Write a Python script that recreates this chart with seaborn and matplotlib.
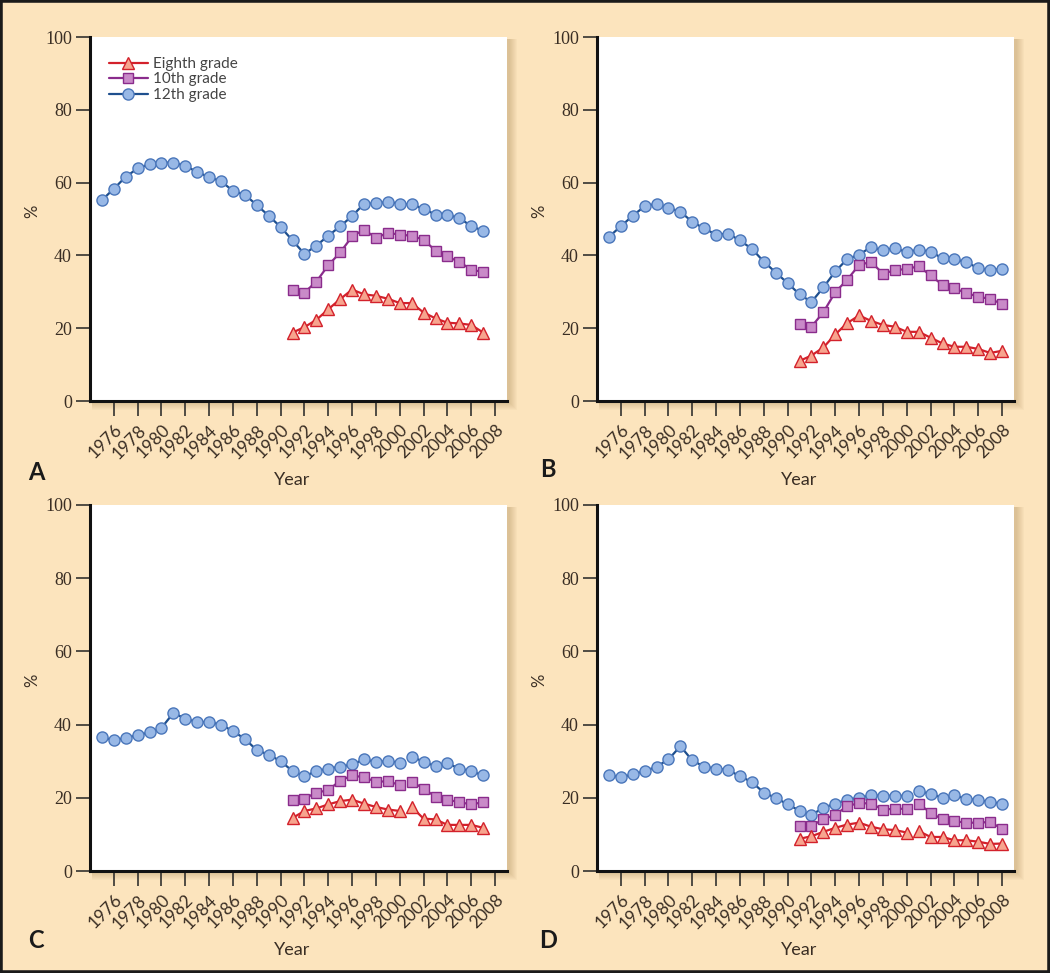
import numpy as np
import pandas as pd
import matplotlib
matplotlib.use('Agg')
import matplotlib.pyplot as plt
import seaborn as sns
from matplotlib.lines import Line2D
from matplotlib.patches import Rectangle

# survey years
years_12_short = list(range(1975, 2008))
years_12_long = list(range(1975, 2009))
years_lo_short = list(range(1991, 2008))
years_lo_long = list(range(1991, 2009))

# panel A
a_12 = [55.2, 58.3, 61.6, 63.9, 65.1, 65.5, 65.5, 64.6, 62.9, 61.5,
        60.4, 57.7, 56.7, 53.8, 50.9, 47.8, 44.1, 40.4, 42.7, 45.4,
        48.0, 50.8, 54.2, 54.3, 54.7, 54.2, 54.0, 52.8, 51.2, 51.1,
        50.3, 48.0, 46.8]
a_10 = [30.5, 29.8, 32.8, 37.3, 40.8, 45.2, 47.1, 44.8, 46.2, 45.7,
        45.4, 44.3, 41.3, 39.7, 38.2, 36.1, 35.4]
a_8 = [18.8, 20.3, 22.3, 25.2, 28.0, 30.6, 29.3, 28.9, 28.1, 26.9,
       26.9, 24.3, 22.7, 21.5, 21.3, 20.9, 18.8]

# panel B
b_12 = [45.1, 48.0, 50.9, 53.5, 54.2, 53.1, 52.0, 49.2, 47.4, 45.7,
        46.0, 44.1, 41.8, 38.3, 35.3, 32.4, 29.3, 27.2, 31.2, 35.6,
        39.0, 40.2, 42.3, 41.4, 42.0, 40.9, 41.6, 41.0, 39.2, 39.0,
        38.1, 36.5, 35.9, 36.4]
b_10 = [21.1, 20.4, 24.4, 29.9, 33.3, 37.4, 38.2, 35.0, 35.9, 36.3,
        37.0, 34.5, 31.9, 31.0, 29.6, 28.7, 28.0, 26.7]
b_8 = [11.0, 12.5, 14.7, 18.3, 21.4, 23.5, 22.0, 20.9, 20.4, 19.0,
       19.0, 17.4, 15.8, 14.9, 14.9, 14.3, 13.2, 13.8]

# panel C
c_12 = [36.6, 35.7, 36.4, 37.1, 37.9, 39.1, 43.2, 41.6, 40.7, 40.7,
        40.0, 38.2, 36.1, 33.0, 31.8, 30.0, 27.3, 25.9, 27.3, 28.0,
        28.5, 29.1, 30.5, 29.8, 30.0, 29.6, 31.2, 29.9, 28.6, 29.4,
        28.0, 27.3, 26.1]
c_10 = [19.5, 19.8, 21.4, 22.1, 24.7, 26.1, 25.6, 24.4, 24.5, 23.5,
        24.4, 22.5, 20.3, 19.5, 18.8, 18.2, 18.8]
c_8 = [14.5, 16.4, 17.1, 18.2, 19.1, 19.5, 18.4, 17.5, 16.8, 16.4,
       17.5, 14.3, 14.1, 12.6, 12.6, 12.6, 11.8]

# panel D
d_12 = [26.2, 25.6, 26.4, 27.3, 28.5, 30.5, 34.1, 30.2, 28.5, 28.0,
        27.6, 25.9, 24.3, 21.4, 20.0, 18.2, 16.5, 15.3, 17.3, 18.4,
        19.5, 20.0, 20.7, 20.5, 20.6, 20.5, 21.8, 21.1, 20.0, 20.7,
        19.7, 19.4, 18.8, 18.4]
d_10 = [12.4, 12.4, 14.1, 15.4, 17.7, 18.6, 18.4, 16.8, 17.0, 17.0,
        18.4, 15.9, 14.1, 13.6, 13.2, 13.2, 13.4, 11.5]
d_8 = [8.8, 9.5, 10.7, 11.8, 12.7, 13.2, 12.1, 11.4, 11.2, 10.5,
       10.9, 9.3, 9.3, 8.4, 8.4, 8.0, 7.4, 7.5]

grades = ['Eighth grade', '10th grade', '12th grade']
x_ticks = list(range(1976, 2010, 2))
y_ticks = [0, 20, 40, 60, 80, 100]

panels = {
    'A': dict(y12=a_12, y10=a_10, y8=a_8, yr12=years_12_short, yrlo=years_lo_short, brk=None),
    'B': dict(y12=b_12, y10=b_10, y8=b_8, yr12=years_12_long, yrlo=years_lo_long, brk=None),
    'C': dict(y12=c_12, y10=c_10, y8=c_8, yr12=years_12_short, yrlo=years_lo_short, brk=2001),
    'D': dict(y12=d_12, y10=d_10, y8=d_8, yr12=years_12_long, yrlo=years_lo_long, brk=2001),
}

styles = {
    'Eighth grade': dict(color='#D3212B', marker='^', markerfacecolor='#F7A48E',
                         markeredgecolor='#D3212B', markersize=8.5),
    '10th grade': dict(color='#8A2C8C', marker='s', markerfacecolor='#C98AC8',
                       markeredgecolor='#8A2C8C', markersize=7),
    '12th grade': dict(color='#1E4F8E', marker='o', markerfacecolor='#98B8E6',
                       markeredgecolor='#4A76BA', markersize=8),
}

BG = '#FCE4BD'
TXT = '#3A2E24'
W, H = 1050, 973

# axes boxes in pixels: left, top, right, bottom
boxes = {'A': (90, 37, 507, 401), 'B': (597, 37, 1014, 401),
         'C': (90, 505, 507, 871), 'D': (597, 505, 1014, 871)}
letters = {'A': (36, 472), 'B': (548, 470), 'C': (36, 940), 'D': (548, 940)}


def build_frame(p):
    rows = []
    series = [('12th grade', p['yr12'], p['y12']),
              ('10th grade', p['yrlo'], p['y10']),
              ('Eighth grade', p['yrlo'], p['y8'])]
    for g, yrs, vals in series:
        for yr, v in zip(yrs, vals):
            seg = 1 if (p['brk'] is not None and yr >= p['brk']) else 0
            rows.append({'year': yr, 'pct': v, 'grade': g, 'seg': seg})
    return pd.DataFrame(rows)


sns.set_style('ticks')
plt.rcParams['font.family'] = ['Lato', 'DejaVu Sans']

fig = plt.figure(figsize=(W / 100, H / 100), dpi=100)
fig.patch.set_facecolor(BG)

for key, p in panels.items():
    l, t, r, b = boxes[key]
    rect = [l / W, 1 - b / H, (r - l) / W, (b - t) / H]

    # soft drop shadow behind the white plot area
    for k in range(1, 9):
        fig.patches.append(Rectangle((rect[0] + 2 / W, rect[1] - (k + 1) / H),
                                     rect[2] + k / W, rect[3] + (k - 1) / H,
                                     transform=fig.transFigure, facecolor='#9C7A45',
                                     edgecolor='none', alpha=0.045, zorder=-5))

    ax = fig.add_axes(rect)
    ax.set_zorder(2)
    ax.set_facecolor('white')
    df = build_frame(p)
    for g in ['12th grade', '10th grade', 'Eighth grade']:
        sub = df[df['grade'] == g]
        sns.lineplot(data=sub, x='year', y='pct', units='seg', estimator=None,
                     ax=ax, legend=False, linewidth=1.6, markeredgewidth=1.0,
                     zorder=3, **styles[g])

    ax.set_xlim(1974, 2009)
    ax.set_ylim(0, 100)
    sns.despine(ax=ax)
    for s in ['left', 'bottom']:
        ax.spines[s].set_linewidth(2.2)
        ax.spines[s].set_color('#111111')

    ax.set_xticks(x_ticks)
    ax.set_xticklabels([str(v) for v in x_ticks], rotation=45, ha='right',
                       rotation_mode='anchor', fontsize=12.5, color=TXT)
    ax.set_yticks(y_ticks)
    ax.set_yticklabels([str(v) for v in y_ticks], fontsize=13, color=TXT,
                       family=['Liberation Serif', 'DejaVu Serif'])
    ax.tick_params(axis='x', length=11, width=1.1, color='#222222', pad=4)
    ax.tick_params(axis='y', length=10, width=1.1, color='#222222', pad=3)

    ax.set_xlabel('Year', fontsize=13, color=TXT)
    ax.xaxis.set_label_coords(0.485, -0.195)
    ax.set_ylabel('%', fontsize=12, color=TXT)
    ax.yaxis.set_label_coords(-0.12, 0.52)

    if key == 'A':
        handles = [Line2D([0], [0], linewidth=1.6, markeredgewidth=1.0, **styles[g])
                   for g in grades]
        leg = ax.legend(handles, grades, loc='upper left', bbox_to_anchor=(0.03, 0.962),
                        frameon=False, fontsize=11, handlelength=2.6,
                        labelspacing=0.1, handletextpad=0.3, borderaxespad=0)
        for txt in leg.get_texts():
            txt.set_color('#444444')

    lx, ly = letters[key]
    fig.text(lx / W, 1 - ly / H, key, fontsize=17, fontweight='bold',
             color='#1A1A1A', ha='center', va='center')

# dark frame around the whole figure
fig.patches.append(Rectangle((0, 0), 1, 1, transform=fig.transFigure, fill=False,
                             edgecolor='#1A1A1A', linewidth=4, zorder=10))

fig.savefig('out.png', dpi=100, facecolor=BG)
plt.close(fig)
